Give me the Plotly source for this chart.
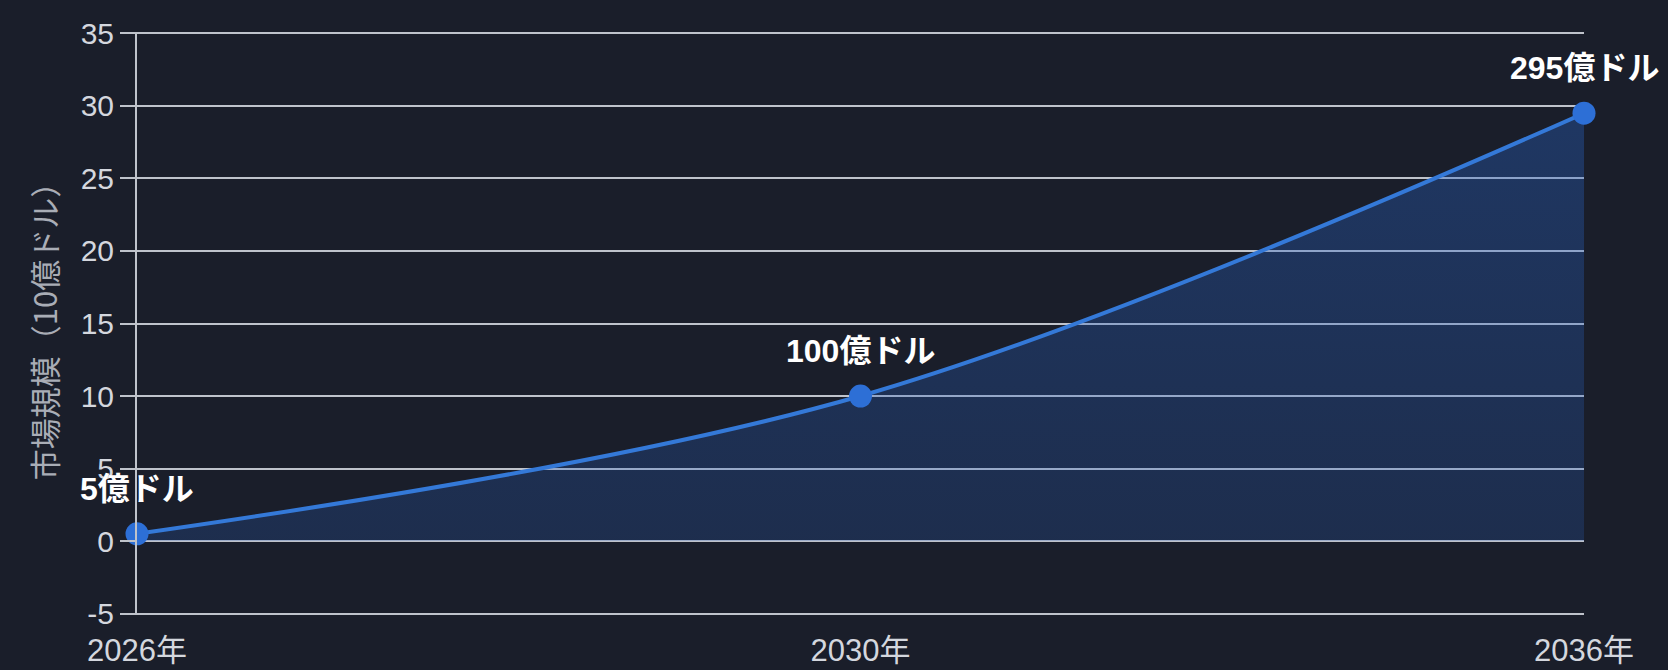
import plotly.graph_objects as go

# Market size forecast (units of 1 billion USD)
years = ["2026年", "2030年", "2036年"]
market_size = [0.5, 10.0, 29.5]
y_ticks = [-5, 0, 5, 10, 15, 20, 25, 30, 35]
y_tick_text = ["-5", "0", "5", "10", "15", "20", "25", "30", "35"]

bg = "#1a1e2a"
grid = "#bfc3cb"
line_blue = "#3479d8"
font_family = "Liberation Sans, Arial, Noto Sans CJK JP, sans-serif"

point_labels = [f"{round(v * 10)}億ドル" for v in market_size]

fig = go.Figure()
fig.add_trace(go.Scatter(
    x=years,
    y=market_size,
    mode="lines+markers",
    line=dict(color=line_blue, width=4, shape="spline", smoothing=1.0),
    marker=dict(size=23, color="#2d6fd6"),
    fill="tozeroy",
    fillgradient=dict(
        type="vertical",
        colorscale=[[0, "rgba(40,95,190,0.24)"], [1, "rgba(40,100,200,0.36)"]],
    ),
    cliponaxis=False,
    hoverinfo="skip",
    showlegend=False,
))

for x, y, t in zip(years, market_size, point_labels):
    fig.add_annotation(
        x=x, y=y, text=f"<b>{t}</b>", showarrow=False,
        yshift=45, xanchor="center", yanchor="middle",
        font=dict(family=font_family, size=32, color="#ffffff"),
    )

fig.update_layout(
    width=1668, height=670,
    paper_bgcolor=bg, plot_bgcolor=bg,
    margin=dict(l=137, r=84, t=32, b=55),
    font=dict(family=font_family, color="#d4d7de"),
)

fig.update_xaxes(
    type="category",
    range=[0, 2],
    showgrid=False,
    zeroline=False,
    showline=False,
    ticks="",
    tickfont=dict(size=31, color="#d4d7de"),
    ticklabelstandoff=14,
    automargin=False,
)

fig.update_yaxes(
    range=[-5.1, 35.1],
    tickvals=y_ticks,
    ticktext=y_tick_text,
    showgrid=True, gridcolor=grid, gridwidth=2,
    zeroline=False,
    showline=True, linecolor=grid, linewidth=2,
    ticks="outside", ticklen=15, tickcolor=grid, tickwidth=2,
    tickfont=dict(size=30, color="#d4d7de"),
    title=dict(text="市場規模（10億ドル）",
               font=dict(family="Noto Sans CJK JP, sans-serif", size=31, color="#a9adb6"),
               standoff=14),
    automargin=False,
)

fig.write_html("out.html")
